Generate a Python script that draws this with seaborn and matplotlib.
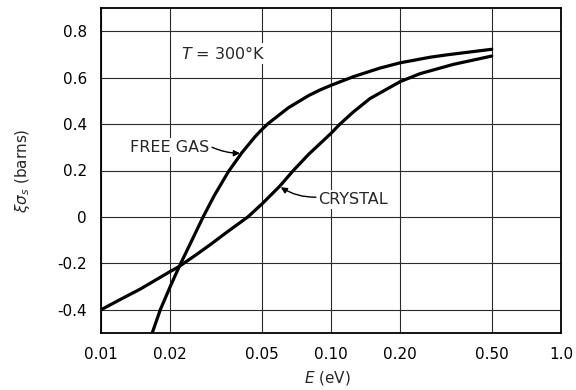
import numpy as np
import pandas as pd
import matplotlib
matplotlib.use("Agg")
import matplotlib.pyplot as plt
import seaborn as sns

# ---- data ----
free_gas_E = [0.0167, 0.0181, 0.0200, 0.0219, 0.0250, 0.0278, 0.0310, 0.0358, 0.0410,
              0.0467, 0.0500, 0.0534, 0.0652, 0.0800, 0.0896, 0.1000, 0.1250, 0.1630,
              0.2000, 0.2700, 0.3180, 0.4450, 0.5000]
free_gas_y = [-0.500, -0.400, -0.300, -0.213, -0.095, 0.000, 0.090, 0.195, 0.277,
              0.345, 0.376, 0.403, 0.470, 0.523, 0.547, 0.567, 0.604, 0.641,
              0.664, 0.688, 0.698, 0.716, 0.722]

crystal_E = [0.0100, 0.0120, 0.0148, 0.0200, 0.0219, 0.0260, 0.0300, 0.0350, 0.0435,
             0.0500, 0.0598, 0.0686, 0.0800, 0.1000, 0.1094, 0.1250, 0.1478,
             0.2000, 0.2437, 0.3400, 0.5000]
crystal_y = [-0.400, -0.358, -0.311, -0.235, -0.213, -0.162, -0.118, -0.068, 0.000,
             0.055, 0.132, 0.200, 0.270, 0.360, 0.400, 0.452, 0.510,
             0.583, 0.617, 0.657, 0.693]

x_ticks = [0.01, 0.02, 0.05, 0.10, 0.20, 0.50, 1.0]
x_tick_labels = ["0.01", "0.02", "0.05", "0.10", "0.20", "0.50", "1.0"]
y_ticks = [-0.4, -0.2, 0.0, 0.2, 0.4, 0.6, 0.8]
y_tick_labels = ["-0.4", "-0.2", "0", "0.2", "0.4", "0.6", "0.8"]

df_gas = pd.DataFrame({"E": free_gas_E, "v": free_gas_y})
df_cry = pd.DataFrame({"E": crystal_E, "v": crystal_y})

sns.set_theme(style="white")
plt.rcParams["font.family"] = ["DejaVu Sans"]

fig = plt.figure(figsize=(5.76, 3.90), dpi=100)
ax = fig.add_axes([101 / 576, 1 - 333 / 390, 460 / 576, 325 / 390])

ax.set_xscale("log")
ax.set_xlim(0.01, 1.0)
ax.set_ylim(-0.5, 0.9)

sns.lineplot(data=df_gas, x="E", y="v", ax=ax, color="black", lw=2.3,
             estimator=None, sort=False, zorder=5)
sns.lineplot(data=df_cry, x="E", y="v", ax=ax, color="black", lw=2.3,
             estimator=None, sort=False, zorder=5)

ax.set_xticks(x_ticks)
ax.set_xticklabels(x_tick_labels)
ax.xaxis.set_minor_locator(matplotlib.ticker.NullLocator())
ax.set_yticks(y_ticks)
ax.set_yticklabels(y_tick_labels)
ax.tick_params(axis="both", length=0, labelsize=11, colors="black")
ax.tick_params(axis="y", pad=10)
ax.tick_params(axis="x", pad=10)

ax.grid(True, which="major", color="#2a2a2a", lw=0.8)
for s in ax.spines.values():
    s.set_color("black")
    s.set_linewidth(1.3)

ax.set_xlabel("$E$ (eV)", fontsize=11)
ax.set_ylabel(r"$\xi\sigma_s$ (barns)", fontsize=11)
ax.xaxis.set_label_coords(0.493, -0.11)
ax.yaxis.set_label_coords(-0.15, 0.5)

box = dict(facecolor="white", edgecolor="none", pad=1.5)
ax.text(0.0222, 0.704, "$T$ = 300°K", fontsize=11.5, ha="left", va="center",
        bbox=box, zorder=4)
ax.text(0.0297, 0.30, "FREE GAS", fontsize=11.5, ha="right", va="center",
        bbox=box, zorder=4)
ax.text(0.0880, 0.074, "CRYSTAL", fontsize=11.5, ha="left", va="center",
        bbox=box, zorder=4)

arrow = dict(arrowstyle="-|>", color="black", lw=1.0, mutation_scale=9,
             shrinkA=0, shrinkB=0)
ax.annotate("", xy=(0.0402, 0.274), xytext=(0.0304, 0.30),
            arrowprops=dict(arrow, connectionstyle="arc3,rad=0.1"), zorder=6)
ax.annotate("", xy=(0.0605, 0.128), xytext=(0.0860, 0.085),
            arrowprops=dict(arrow, connectionstyle="arc3,rad=-0.15"), zorder=6)

fig.savefig("out.png", dpi=100, facecolor="white")
